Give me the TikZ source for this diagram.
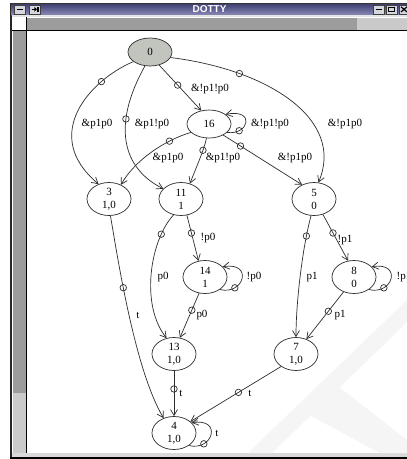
\documentclass[tikz,border=0pt]{standalone}
\usepackage{fontspec}
\setmainfont{Liberation Serif}
\newfontfamily\titlefont{Liberation Sans}
\usetikzlibrary{arrows.meta,shapes.geometric}
\definecolor{edgecol}{RGB}{45,45,45}
\definecolor{startfill}{RGB}{194,197,190}
\definecolor{tbdark}{RGB}{58,58,108}
\definecolor{tblight}{RGB}{138,138,184}
\definecolor{sbdark}{RGB}{156,156,156}
\definecolor{sblight}{RGB}{202,202,202}
\definecolor{btnfill}{RGB}{214,214,222}
\begin{document}
\begin{tikzpicture}[x=1pt,y=-1pt,
  st/.style={ellipse,draw=edgecol,line width=0.7pt,minimum width=44pt,minimum height=33pt,inner sep=0pt,align=center,font=\fontsize{11}{13}\selectfont},
  st1/.style={st,minimum height=28pt},
  tr/.style={draw=edgecol,line width=0.7pt,-{Straight Barb[length=6pt,width=7pt]}},
  mk/.style={circle,draw=edgecol,line width=0.7pt,minimum size=6.5pt,inner sep=0pt},
  lb/.style={font=\fontsize{11}{13}\selectfont,inner sep=0pt},
  btn/.style={fill=btnfill,draw=black!75,line width=0.6pt},
]
\useasboundingbox (0,0) rectangle (407,459);
\fill[white] (0,0) rectangle (407,459);
% ---------- window chrome ----------
\fill[black!85] (10,2.5) rectangle (11.6,458.5);
\shade[top color=tbdark,bottom color=tblight] (11.6,3) rectangle (407,15);
\draw[black!80,line width=0.6pt] (11.6,3.2) -- (407,3.2);
\fill[black!10] (11.6,15) rectangle (407,17);
\fill[white] (13,17) rectangle (26,30);
\fill[sbdark] (27.3,17.5) rectangle (357,29.5);
\fill[sblight] (357,17.5) rectangle (407,29.5);
\fill[black] (11.6,30) rectangle (407,31.3);
\fill[sbdark] (13,31.3) rectangle (26,393);
\fill[sblight] (13,393) rectangle (26,453);
\fill[black] (26,17) rectangle (27.3,453);
\fill[black!15] (11.6,453) rectangle (407,457);
\fill[black] (10,457) rectangle (407,458.5);
% buttons
\draw[btn] (14,4.8) rectangle (25,13.8);
\fill[black] (16.5,8.6) rectangle (22.5,10.4);
\draw[btn] (29.5,4.8) rectangle (40.5,13.8);
\draw[black,line width=1pt] (31.5,9.3) -- (36.2,9.3);
\fill[black] (37,9.3) -- (34.3,6.9) -- (34.3,11.7) -- cycle;
\fill[black] (37.3,6.5) rectangle (38.5,12.1);
\draw[btn] (373,4.8) rectangle (384,13.8);
\fill[black] (375.5,8.6) rectangle (381.5,10.4);
\draw[btn] (386,4.8) rectangle (397,13.8);
\draw[black,line width=1pt] (388.5,7.2) rectangle (394.5,11.6);
\draw[btn] (399,4.8) rectangle (410,13.8);
\draw[black,line width=1.2pt] (401,6.8) -- (407,12) (401,12) -- (407,6.8);
\node[text=white,inner sep=0pt] (title) at (209.5,9) {\titlefont\bfseries\fontsize{10}{10}\selectfont DOTTY};
% ---------- canvas ----------
\begin{scope}
\clip (27.3,31.3) rectangle (407,453);
% faint watermark
\fill[black!4] (248,453) -- (407,300) -- (407,322) -- (272,453) -- cycle;
\fill[black!4] (300,410) -- (330,380) -- (407,440) -- (407,453) -- (380,453) -- cycle;
% nodes
\node[st1,fill=startfill] (n0) at (150,52) {0};
\node[st1] (n16) at (209,124) {16};
\node[st] (n3) at (109,199) {3\\1,0};
\node[st] (n11) at (181,199) {11\\1};
\node[st] (n5) at (314,199) {5\\0};
\node[st] (n14) at (205,277) {14\\1};
\node[st] (n8) at (354,277) {8\\0};
\node[st] (n13) at (174,354) {13\\1,0};
\node[st] (n7) at (296,354) {7\\1,0};
\node[st] (n4) at (174,433) {4\\1,0};
% edges
\draw[tr] (n0.210) .. controls (90,80) and (40,135) .. node[mk,pos=0.25] (m1) {} (n3.125);
\draw[tr] (n0.250) .. controls (112,125) and (122,168) .. node[mk,pos=0.33] (m2) {} (n11.150);
\draw[tr] (n0.-55) -- node[mk,pos=0.44] (m3) {} (n16.120);
\draw[tr] (n0.-15) .. controls (270,70) and (345,120) .. node[mk,pos=0.25] (m4) {} (n5.75);
\draw[tr] (n16.-25) .. controls +(22,3) and +(30,-6) .. node[mk,pos=0.22] (m5) {} (n16.30);
\draw[tr] (n16.205) .. controls (165,140) and (135,160) .. node[mk,pos=0.27] (m6) {} (n3.50);
\draw[tr] (n16.260) .. controls (204,150) and (196,168) .. node[mk,pos=0.3] (m7) {} (n11.60);
\draw[tr] (n16.-38) -- node[mk,pos=0.22] (m8) {} (n5.130);
\draw[tr] (n3.275) .. controls (118,260) and (135,370) .. node[mk,pos=0.38] (m9) {} (n4.125);
\draw[tr] (n11.245) .. controls (150,240) and (140,305) .. node[mk,pos=0.2] (m10) {} (n13.115);
\draw[tr] (n11.290) -- node[mk,pos=0.39] (m11) {} (n14.112);
\draw[tr] (n14.-40) .. controls +(24,6) and +(31,-5) .. node[mk,pos=0.25] (m12) {} (n14.30);
\draw[tr] (n14.250) -- node[mk,pos=0.38] (m13) {} (n13.70);
\draw[tr] (n5.260) .. controls (303,245) and (296,300) .. node[mk,pos=0.2] (m14) {} (n7.90);
\draw[tr] (n5.-60) -- node[mk,pos=0.4] (m15) {} (n8.110);
\draw[tr] (n8.-40) .. controls +(24,6) and +(31,-5) .. node[mk,pos=0.25] (m16) {} (n8.30);
\draw[tr] (n8.235) -- node[mk,pos=0.41] (m17) {} (n7.55);
\draw[tr] (n13.270) -- node[mk,pos=0.4] (m18) {} (n4.90);
\draw[tr] (n7.220) -- node[mk,pos=0.47] (m19) {} (n4.35);
\draw[tr] (n4.-40) .. controls +(24,6) and +(31,-5) .. node[mk,pos=0.25] (m20) {} (n4.30);
% labels
\node[lb] (l1) at (97,124) {\&p1p0};
\node[lb] (l2) at (152,124) {\&p1!p0};
\node[lb] (l3) at (210,89) {\&!p1!p0};
\node[lb] (l4) at (345,124) {\&!p1p0};
\node[lb] (l5) at (270,124) {\&!p1!p0};
\node[lb] (l6) at (168,158) {\&p1p0};
\node[lb] (l7) at (223,158) {\&p1!p0};
\node[lb] (l8) at (295,158) {\&!p1p0};
\node[lb] (l9) at (138,315) {t};
\node[lb] (l10) at (163,277) {p0};
\node[lb] (l11) at (208,238) {!p0};
\node[lb] (l12) at (254,277) {!p0};
\node[lb] (l13) at (202,315) {p0};
\node[lb] (l14) at (312,277) {p1};
\node[lb] (l15) at (345,240) {!p1};
\node[lb] (l16) at (404,277) {!p1};
\node[lb] (l17) at (340,315) {p1};
\node[lb] (l18) at (181,393) {t};
\node[lb] (l19) at (250,393) {t};
\node[lb] (l20) at (217,433) {t};
\end{scope}
\end{tikzpicture}
\end{document}
